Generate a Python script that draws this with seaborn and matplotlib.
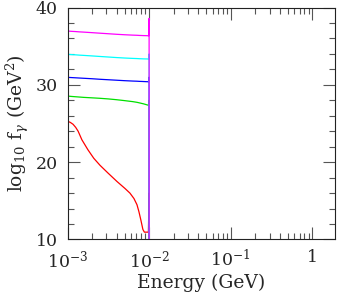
import numpy as np
import pandas as pd
import matplotlib
matplotlib.use('Agg')
import matplotlib.pyplot as plt
import matplotlib.ticker as mticker
import seaborn as sns

# Energy grid (GeV) for the four upper curves; the last two points make the drop at 1e-2
energy = [1.0e-3, 1.12e-3, 1.26e-3, 1.41e-3, 1.58e-3, 2.0e-3, 2.5e-3, 3.16e-3,
          3.98e-3, 5.0e-3, 6.3e-3, 7.1e-3, 7.6e-3, 8.1e-3, 8.5e-3, 9.3e-3,
          9.9e-3, 1.0e-2, 1.0e-2]
# finer grid for the red curve
energy_red = [1.0e-3, 1.08e-3, 1.17e-3, 1.26e-3, 1.35e-3, 1.5e-3, 1.78e-3,
              2.1e-3, 2.5e-3, 3.13e-3, 4.04e-3, 5.06e-3, 5.82e-3, 6.52e-3,
              7.1e-3, 7.5e-3, 7.93e-3, 8.39e-3, 8.75e-3, 9.8e-3, 1.0e-2, 1.0e-2]

# log10 f_gamma for each curve
f_red = [25.3, 25.15, 24.9, 24.5, 24.0, 22.9, 21.6, 20.5, 19.6, 18.6, 17.5,
         16.6, 16.0, 15.3, 14.5, 13.6, 12.5, 11.3, 10.95, 10.95, 16.0, 5.0]
f_green = [28.55, 28.5, 28.46, 28.42, 28.38, 28.32, 28.26, 28.18, 28.08, 27.96,
           27.83, 27.74, 27.67, 27.6, 27.55, 27.43, 27.35, 28.0, 5.0]
f_blue = [30.97, 30.94, 30.91, 30.88, 30.85, 30.79, 30.72, 30.66, 30.6, 30.54,
          30.49, 30.47, 30.45, 30.44, 30.43, 30.41, 30.4, 31.0, 5.0]
f_cyan = [33.95, 33.91, 33.88, 33.84, 33.81, 33.74, 33.67, 33.6, 33.53, 33.47,
          33.42, 33.4, 33.38, 33.37, 33.36, 33.35, 33.34, 34.0, 5.0]
f_magenta = [36.96, 36.92, 36.89, 36.85, 36.82, 36.75, 36.68, 36.61, 36.54,
             36.48, 36.43, 36.41, 36.39, 36.38, 36.37, 36.36, 36.35, 38.6, 5.0]

curves = [('red', energy_red, f_red), ('#00e000', energy, f_green),
          ('blue', energy, f_blue), ('cyan', energy, f_cyan),
          ('magenta', energy, f_magenta)]

sns.set_style('ticks')
plt.rcParams['font.family'] = ['DejaVu Serif']
plt.rcParams['mathtext.fontset'] = 'dejavuserif'

fig = plt.figure(figsize=(3.37, 2.94), dpi=100)
ax = fig.add_axes([0.2003, 0.1854, 0.794, 0.789])

for color, e, vals in curves:
    df = pd.DataFrame({'energy': e, 'f': vals})
    sns.lineplot(data=df, x='energy', y='f', color=color, lw=0.9,
                 sort=False, estimator=None, ax=ax)

ax.set_xscale('log')
ax.set_xlim(1e-3, 1.9)
ax.set_ylim(10, 40)

ax.xaxis.set_major_locator(mticker.FixedLocator([1e-3, 1e-2, 1e-1, 1]))
ax.set_xticklabels(['$10^{-3}$', '$10^{-2}$', '$10^{-1}$', '1'])
ax.xaxis.set_minor_locator(mticker.LogLocator(base=10, subs=np.arange(2, 10)))
ax.xaxis.set_minor_formatter(mticker.NullFormatter())
ax.yaxis.set_major_locator(mticker.MultipleLocator(10))
ax.yaxis.set_minor_locator(mticker.MultipleLocator(2))

ax.tick_params(which='both', direction='in', top=True, right=True,
               color='#555555', width=0.8, labelsize=12.5)
ax.tick_params(which='major', length=8.5, pad=7)
ax.tick_params(which='minor', length=4)
for s in ax.spines.values():
    s.set_linewidth(0.8)
    s.set_color('#222222')

ax.set_xlabel('Energy (GeV)', fontsize=13.5, labelpad=2)
ax.set_ylabel(r'log$_{10}$ f$_\gamma$ (GeV$^2$)', fontsize=13.5, labelpad=3)

fig.savefig('out.png', dpi=100)
